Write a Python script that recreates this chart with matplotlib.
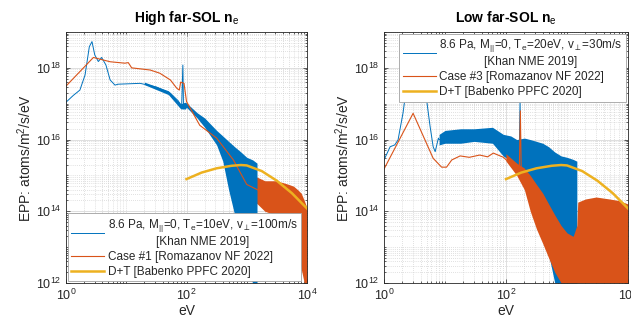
import numpy as np
import matplotlib
matplotlib.use("Agg")
import matplotlib.pyplot as plt
from matplotlib.ticker import FixedLocator, LogLocator, NullFormatter

plt.rcParams['font.family'] = ['Liberation Sans', 'DejaVu Sans']
plt.rcParams['mathtext.fontset'] = 'custom'
plt.rcParams['mathtext.rm'] = 'Liberation Sans'
plt.rcParams['mathtext.it'] = 'Liberation Sans:italic'

BLUE = '#0072BD'
ORANGE = '#D95319'
YELLOW = '#EDB120'

# ---- high far-SOL ne (left) ----
khan_hi_e = [1.0, 1.32, 1.7, 2.07, 2.44, 2.7, 3.0, 3.44, 3.9, 4.6, 5.4, 6.5, 7.3, 17, 32, 54,
             73, 83, 87, 89, 92, 100, 130, 200, 316, 500, 800, 1200, 1480]
khan_hi = [1.1e17, 1.7e17, 2.4e17, 6.3e17, 3.9e18, 5.4e18, 2.3e18, 1.5e18, 1.95e18, 1.2e18, 4.6e17,
           3.3e17, 3.5e17, 3.7e17, 2.9e17, 1.95e17, 1.2e17, 8.3e16, 1.2e18, 1.0e17, 8.3e16, 8.9e16,
           6.3e16, 2.8e16, 1.1e16, 3.5e15, 6.0e14, 8.0e13, 3.0e13]
khan_hi_band_e = [20, 50, 80, 95, 100, 150, 200, 316, 400, 500, 630, 800, 1000, 1260, 1480]
khan_hi_up = [4.0e17, 2.3e17, 1.0e17, 1.1e17, 1.05e17, 5.6e16, 4.0e16, 1.8e16, 1.26e16, 8.9e15,
              6.3e15, 4.5e15, 3.2e15, 2.7e15, 2.2e15]
khan_hi_lo = [3.4e17, 1.8e17, 7.2e16, 7.1e16, 7.9e16, 4.0e16, 2.2e16, 7.1e15, 2.5e15, 4.0e14,
              7.9e13, 1.0e13, 2.0e12, 1e12, 1e12]

rom1_e = [1.0, 2.85, 5.4, 9.5, 10.8, 12.3, 25, 36, 54, 69, 76, 80, 91, 100, 166, 316, 600,
          1000, 1500, 3000, 6000, 10000]
rom1 = [3.1e17, 1.95e18, 1.48e18, 1.35e18, 1.4e18, 1.0e18, 8.7e17, 7.1e17, 4.6e17, 2.7e17, 2.4e17,
        4.0e17, 3.7e17, 1.15e17, 2.5e16, 1.1e16, 2.7e15, 5.6e14, 4.0e14, 2.5e14, 1.6e14, 6.0e13]
rom1_band_e = [300, 500, 700, 1000, 1500, 2000, 3000, 4000, 5000, 6000, 7000, 8000, 9000, 10000]
rom1_up = [1.4e16, 5.6e15, 2.2e15, 1.1e15, 8.9e14, 7.1e14, 7.1e14, 6.3e14, 5.6e14, 5.0e14, 4.0e14,
           3.2e14, 2.0e14, 1.26e14]
rom1_lo = [8.9e15, 2.5e15, 7.9e14, 2.5e14, 1.6e14, 1.0e14, 7.9e13, 6.3e13, 4.0e13, 2.0e13, 7.9e12,
           2.5e12, 1e12, 1e12]

# ---- low far-SOL ne (right) ----
khan_lo_e = [1.0, 1.26, 1.5, 1.7, 2.05, 2.4, 2.7, 3.2, 3.5, 4.0, 4.6, 5.0, 5.7, 6.4, 6.9, 7.8,
             8, 30, 60, 90, 150, 165, 170, 175, 250, 400, 630, 1000, 1450]
khan_lo = [2.7e15, 6.3e15, 7.1e15, 9.8e15, 5.5e16, 4e17, 1.6e18, 4e17, 2.5e17, 5e17, 4e17, 1.26e17,
           2.3e16, 6.3e15, 4.6e15, 1.1e16, 1e16, 1.3e16, 1.4e16, 7e15, 4.5e15, 4.0e15, 1.26e17,
           3.2e15, 2e15, 6.3e14, 2.5e14, 1.3e14, 1.0e14]
khan_lo_band_e = [8, 10, 18, 30, 60, 90, 120, 150, 200, 250, 316, 400, 500, 630, 800, 1000, 1260, 1450]
khan_lo_up = [1.4e16, 1.8e16, 2.0e16, 2.0e16, 2.2e16, 1.4e16, 1.26e16, 1.0e16, 1.1e16, 1.0e16,
              8.9e15, 7.9e15, 6.3e15, 4.5e15, 3.5e15, 3.2e15, 2.8e15, 2.5e15]
khan_lo_lo = [7.1e15, 7.9e15, 7.9e15, 8.9e15, 7.9e15, 3.5e15, 2.5e15, 1.6e15, 6.3e14, 2.5e14,
              1.0e14, 2.5e13, 6.3e12, 1e12, 1e12, 1e12, 1e12, 1e12]

rom3_e = [1.0, 3.0, 6.4, 8.8, 10.6, 12.9, 17.7, 25, 37, 50, 62, 80, 91, 150, 165, 172, 178,
          280, 525, 780, 1450, 3000, 10000]
rom3 = [1.5e15, 5.4e16, 3.0e15, 1.7e15, 1.7e15, 2.7e15, 3.5e15, 3.2e15, 3.7e15, 3.3e15, 4.2e15,
        3.5e15, 3.2e15, 1.4e15, 1.26e15, 6.3e16, 1e15, 2e14, 2.5e13, 6e12, 6e12, 1.6e13, 1e13]
rom3_band_e = [100, 150, 200, 250, 316, 400, 500, 630, 800, 1000, 1260, 1450, 1500, 2000, 3000,
               5000, 7000, 10000]
rom3_up = [4.0e15, 2.2e15, 1.6e15, 1.0e15, 5.6e14, 3.2e14, 1.6e14, 7.9e13, 4.0e13, 2.5e13, 2.0e13,
           4.0e13, 1.8e14, 2.2e14, 2.5e14, 2.2e14, 2.0e14, 1.6e14]
rom3_lo = [2.5e15, 1.0e15, 4.0e14, 1.0e14, 3.2e13, 1.26e13, 5.0e12, 2.0e12, 1e12, 1e12, 1e12,
           1e12, 1e12, 1e12, 1e12, 1e12, 1e12, 1e12]

# ---- Babenko D+T (both) ----
bab_e = [100, 178, 316, 562, 800, 1000, 1780, 3160, 5620, 10000]
bab = [7.9e14, 1.2e15, 1.58e15, 1.86e15, 1.95e15, 1.9e15, 1.32e15, 7.1e14, 3.2e14, 1.2e14]

lab_khan_hi = ('8.6 Pa, M$_{||}$=0, T$_\\mathrm{e}$=10eV, v$_{\\perp}$=100m/s\n[Khan NME 2019]')
lab_khan_lo = ('8.6 Pa, M$_{||}$=0, T$_\\mathrm{e}$=20eV, v$_{\\perp}$=30m/s\n[Khan NME 2019]')
lab_bab = 'D+T [Babenko PPFC 2020]'


def style_axes(ax, title):
    ax.set_xscale('log')
    ax.set_yscale('log')
    ax.set_xlim(1, 1e4)
    ax.set_ylim(1e12, 1e19)
    ax.xaxis.set_major_locator(FixedLocator([1, 1e2, 1e4]))
    ax.yaxis.set_major_locator(FixedLocator([1e12, 1e14, 1e16, 1e18]))
    for axis in (ax.xaxis, ax.yaxis):
        axis.set_minor_locator(LogLocator(base=10, subs=np.arange(1, 10), numticks=100))
        axis.set_minor_formatter(NullFormatter())
    ax.grid(True, which='major', color='#d9d9d9', lw=0.6)
    ax.grid(True, which='minor', color='#c4c4c4', lw=0.5, ls=(0, (1, 2)))
    ax.set_axisbelow(True)
    ax.tick_params(which='both', direction='in', top=True, right=True, colors='#262626',
                   labelsize=9, width=0.5)
    ax.tick_params(which='major', length=3)
    ax.tick_params(which='minor', length=1.5)
    for s in ax.spines.values():
        s.set_color('#262626')
        s.set_linewidth(0.6)
    ax.set_xlabel('eV', fontsize=10, color='#262626', labelpad=1)
    ax.set_ylabel('EPP: atoms/m$^2$/s/eV', fontsize=10, color='#262626', labelpad=1)
    ax.set_title(title, fontsize=10, fontweight='bold', pad=7)


fig = plt.figure(figsize=(6.31, 3.25), dpi=100)
ax1 = fig.add_axes([66 / 631, 42 / 325, 241 / 631, 251 / 325])
ax2 = fig.add_axes([384 / 631, 42 / 325, 244 / 631, 251 / 325])

# left
ax1.fill_between(rom1_band_e, rom1_lo, rom1_up, color=ORANGE, lw=0)
ax1.fill_between(khan_hi_band_e, khan_hi_lo, khan_hi_up, color=BLUE, lw=0)
ax1.plot(khan_hi_e, khan_hi, color=BLUE, lw=0.7, label=lab_khan_hi)
ax1.plot(rom1_e, rom1, color=ORANGE, lw=0.8, label='Case #1 [Romazanov NF 2022]')
ax1.plot(bab_e, bab, color=YELLOW, lw=1.8, label=lab_bab)
style_axes(ax1, 'High far-SOL n$_\\mathrm{e}$')

# right
ax2.fill_between(khan_lo_band_e, khan_lo_lo, khan_lo_up, color=BLUE, lw=0)
ax2.fill_between(rom3_band_e, rom3_lo, rom3_up, color=ORANGE, lw=0)
ax2.plot(khan_lo_e, khan_lo, color=BLUE, lw=0.7, label=lab_khan_lo)
ax2.plot(rom3_e, rom3, color=ORANGE, lw=0.8, label='Case #3 [Romazanov NF 2022]')
ax2.plot(bab_e, bab, color=YELLOW, lw=1.8, label=lab_bab)
style_axes(ax2, 'Low far-SOL n$_\\mathrm{e}$')

for ax, loc in ((ax1, 'lower left'), (ax2, 'upper right')):
    leg = ax.legend(loc=loc, fontsize=8.5, frameon=True, fancybox=False, framealpha=1,
                    edgecolor='#a0a0a0', borderaxespad=0.15, handlelength=2.8,
                    handletextpad=0.3, labelspacing=0.25, borderpad=0.3)
    leg.get_frame().set_linewidth(0.6)
    for t in leg.get_texts():
        t.set_multialignment('center')
        t.set_color('#262626')

fig.savefig('out.png', dpi=100)
